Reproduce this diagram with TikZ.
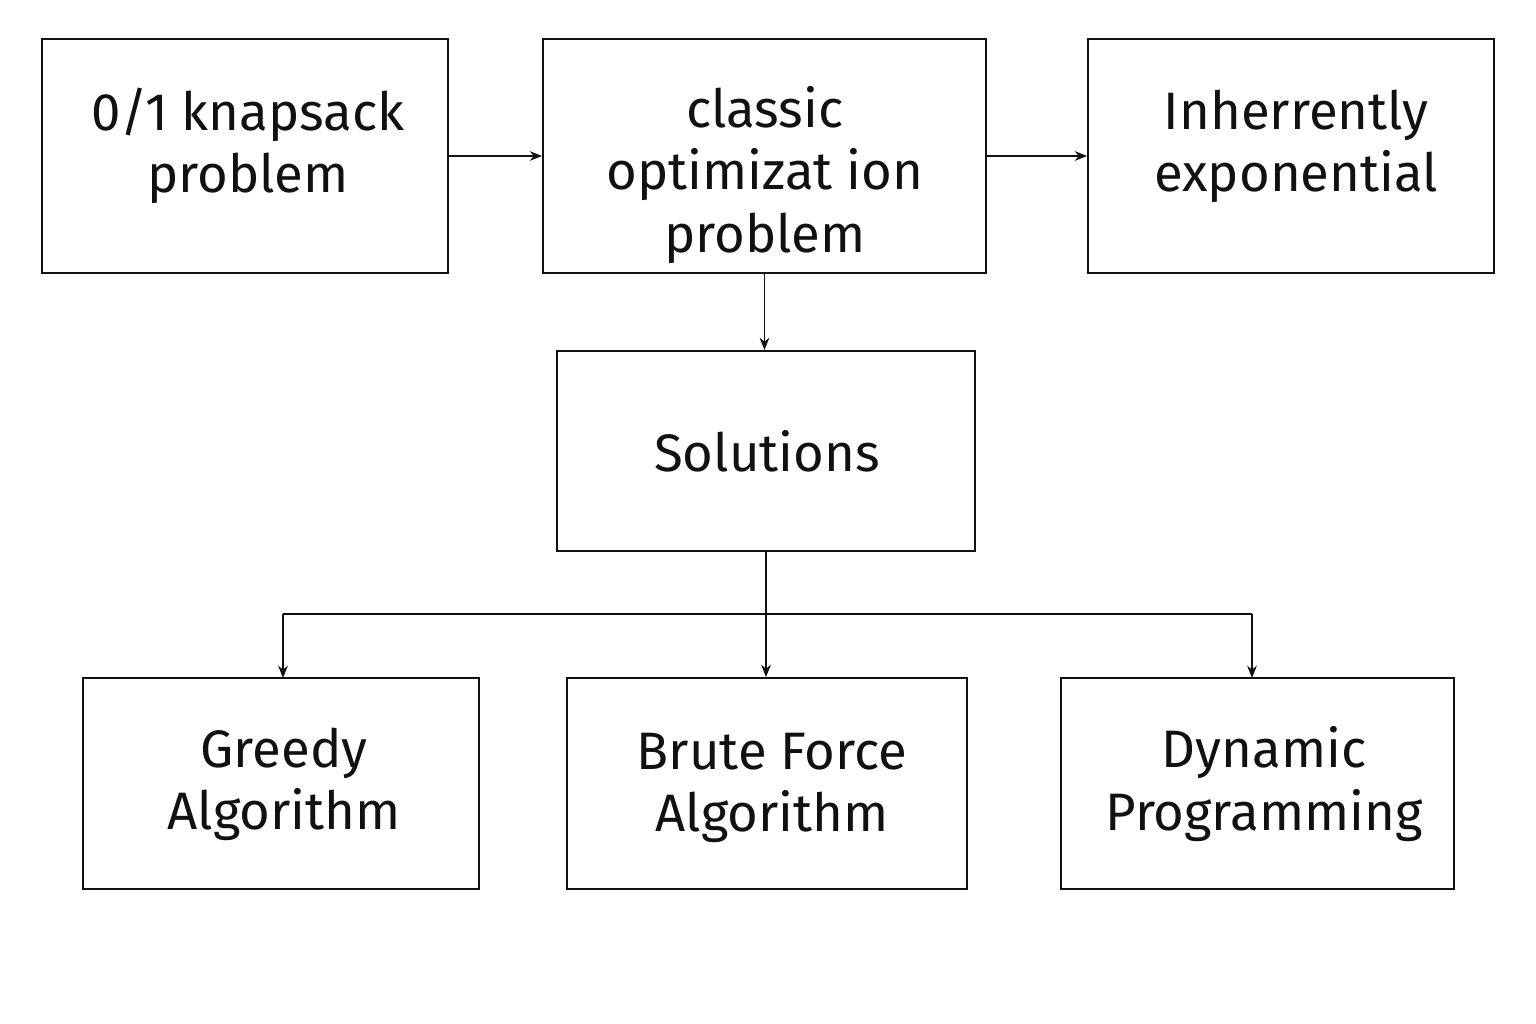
\documentclass[tikz,border=0pt]{standalone}
\usepackage{fontspec}
\setmainfont{Fira Sans}
\usepackage{tikz}
\usetikzlibrary{arrows.meta,positioning}
\usepackage{xcolor}
\definecolor{ink}{HTML}{111111}

\begin{document}
\begin{tikzpicture}[
  x=0.02cm, y=-0.02cm,
  every node/.style={font=\fontsize{30}{35.4}\selectfont, text=ink},
  blockbox/.style={draw=ink, line width=1.1pt, rectangle, inner sep=0pt},
  boxtext/.style={align=center, inner sep=0pt},
  flow/.style={-{Stealth[length=7pt,width=5.5pt]}, draw=ink, line width=1pt}
]
  % Frame
  \useasboundingbox (0,0) rectangle (1536,1024);

  % Top row
  \node[blockbox, minimum width=8.12cm, minimum height=4.68cm] (knap) at (245,156) {};
  \node[boxtext] (knaptext) at (248,146) {0/1 knapsack\\problem};
  \node[blockbox, minimum width=8.86cm, minimum height=4.68cm] (classic) at (764.5,156) {};
  \node[boxtext] (classictext) at (765,175) {classic\\optimizat ion\\problem};
  \node[blockbox, minimum width=8.12cm, minimum height=4.68cm] (inh) at (1291,156) {};
  \node[boxtext] (inhtext) at (1296,146) {Inherrently\\exponential};

  % Middle
  \node[blockbox, minimum width=8.36cm, minimum height=4.0cm] (sol) at (766,451) {};
  \node[boxtext] (soltext) at (767,451) {Solutions};

  % Bottom row
  \node[blockbox, minimum width=7.92cm, minimum height=4.22cm] (greedy) at (281,783.5) {};
  \node[boxtext] (greedytext) at (284,784) {Greedy\\Algorithm};
  \node[blockbox, minimum width=8.0cm, minimum height=4.22cm] (brute) at (767,783.5) {};
  \node[boxtext] (brutetext) at (772,788) {Brute Force\\Algorithm};
  \node[blockbox, minimum width=7.86cm, minimum height=4.22cm] (dyn) at (1257.5,783.5) {};
  \node[boxtext] (dyntext) at (1264,784) {Dynamic\\Programming};

  % Connectors
  \draw[flow] (knap.east) -- (classic.west);
  \draw[flow] (classic.east) -- (inh.west);
  \draw[flow] (classic.south) -- (classic.south |- sol.north);

  % Branch to the three methods
  \coordinate (split) at (sol.south |- 0,614);
  \coordinate (leftend) at (283,614);
  \coordinate (rightend) at (1252,614);
  \coordinate (greedytop) at (283,678);
  \coordinate (dyntop) at (1252,678);
  \draw[draw=ink, line width=1pt] (sol.south) -- (split);
  \draw[draw=ink, line width=1pt] (leftend) -- (rightend);
  \draw[flow] (leftend) -- (greedytop);
  \draw[flow] (split) -- (split |- brute.north);
  \draw[flow] (rightend) -- (dyntop);
\end{tikzpicture}
\end{document}
